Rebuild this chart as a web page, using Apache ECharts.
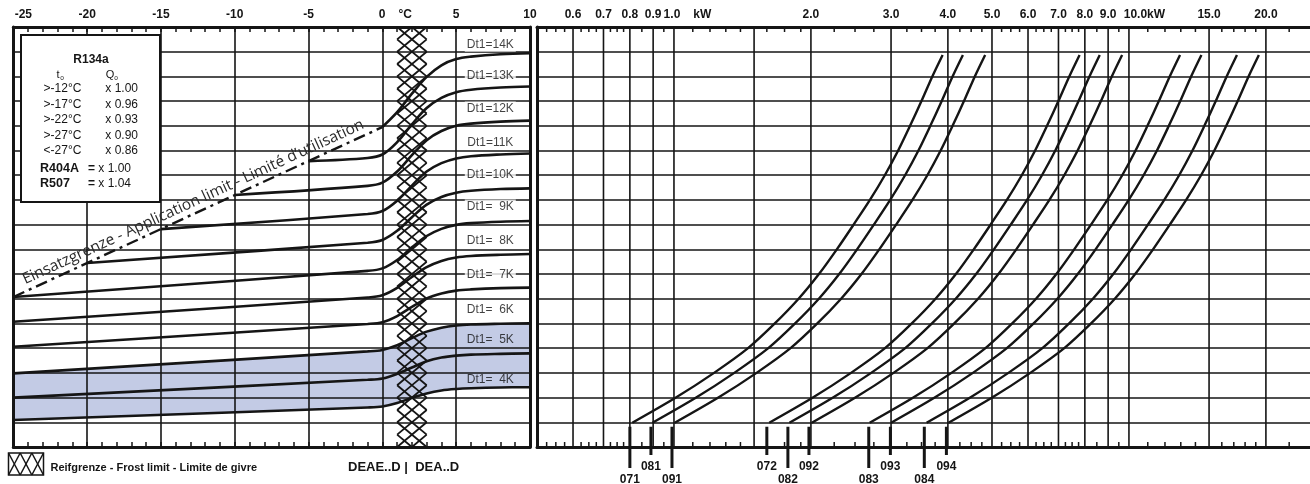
<!DOCTYPE html>
<html><head><meta charset="utf-8">
<script src="https://cdn.jsdelivr.net/npm/echarts@6/dist/echarts.min.js"></script>
<style>html,body{margin:0;padding:0;background:#fff}#c{width:1310px;height:484px}</style>
</head><body><div id="c"></div>
<script>
// ---------- data ----------
const tempMin = -25, tempMax = 10;
const frostBand = [1, 3];
const limitLine = [[-25, 6.07], [0, 12.95]];
const limitText = 'Einsatzgrenze - Application limit - Limité d\u2019utilisation';

const dt4  = [[-25,1.09],[-1,1.60],[0,1.64],[1,1.78],[2,1.99],[3,2.17],[4,2.29],[5,2.35],[6,2.38],[8,2.41],[10,2.42]];
const dt5  = [[-25,2.00],[-1,2.72],[0,2.77],[1,2.96],[2,3.22],[3,3.47],[4,3.62],[5,3.70],[6,3.74],[8,3.77],[10,3.79]];
const dt6  = [[-25,2.98],[-1,3.87],[0,3.93],[1,4.12],[2,4.41],[3,4.67],[4,4.83],[5,4.92],[6,4.96],[8,4.99],[10,5.01]];
const dt7  = [[-25,4.06],[-1,4.98],[0,5.05],[1,5.30],[2,5.67],[3,6.01],[4,6.21],[5,6.33],[6,6.38],[8,6.43],[10,6.45]];
const dt8  = [[-25,5.07],[-1,6.05],[0,6.14],[1,6.44],[2,6.88],[3,7.28],[4,7.53],[5,7.67],[6,7.73],[8,7.78],[10,7.81]];
const dt9  = [[-25,6.07],[-1,7.13],[0,7.23],[1,7.57],[2,8.08],[3,8.54],[4,8.83],[5,8.99],[6,9.06],[8,9.12],[10,9.15]];
const dt10 = [[-20,7.45],[-1,8.27],[0,8.38],[1,8.75],[2,9.30],[3,9.81],[4,10.12],[5,10.29],[6,10.37],[8,10.44],[10,10.47]];
const dt11 = [[-15,8.82],[-1,9.43],[0,9.55],[1,9.97],[2,10.58],[3,11.15],[4,11.49],[5,11.68],[6,11.77],[8,11.84],[10,11.88]];
const dt12 = [[-10,10.20],[-1,10.57],[0,10.70],[1,11.15],[2,11.81],[3,12.42],[4,12.79],[5,13.00],[6,13.09],[8,13.17],[10,13.21]];
const dt13 = [[-5,11.57],[-1,11.70],[0,11.84],[1,12.34],[2,13.06],[3,13.72],[4,14.13],[5,14.36],[6,14.46],[8,14.55],[10,14.59]];
const dt14 = [[0,12.95],[1,13.55],[2,14.30],[3,14.98],[4,15.45],[5,15.70],[6,15.80],[8,15.90],[10,15.94]];
const dtCurves = [dt4, dt5, dt6, dt7, dt8, dt9, dt10, dt11, dt12, dt13, dt14];
const dtNames = ['Dt1=  4K','Dt1=  5K','Dt1=  6K','Dt1=  7K','Dt1=  8K','Dt1=  9K','Dt1=10K','Dt1=11K','Dt1=12K','Dt1=13K','Dt1=14K'];
const dtLabelX = 7.31;
const dtLabelY = [2.74, 4.33, 5.57, 6.96, 8.35, 9.73, 11.01, 12.31, 13.70, 15.02, 16.28];
const dtLabelOnBand = [true, true, false, false, false, false, false, false, false, false, false];

const kwMin = 0.5, kwMax = 25;
const kwLabelValues = [0.6,0.7,0.8,0.9,1,2,3,4,5,6,7,8,9,10,15,20];
const kwLabelTexts = ['0.6','0.7','0.8','0.9','1.0','2.0','3.0','4.0','5.0','6.0','7.0','8.0','9.0','10.0','15.0','20.0'];
const kwGridValues = [0.6,0.7,0.8,0.9,1,1.5,2,3,4,5,6,7,8,9,10,15,20];
const kwMinorTicks = [0.525,0.55,0.575,0.625,0.65,0.675,0.725,0.75,0.775,0.85,0.95,1.1,1.2,1.3,1.4,1.6,1.75,1.9,2.25,2.5,2.75,3.25,3.5,3.75,4.25,4.5,4.75,5.25,5.5,5.75,6.25,6.5,6.75,7.25,7.5,7.75,8.5,9.5,11,12,13,14,16,17,18,19,22.5];

const kwLevels = [0.98,2,3,4,5,6,7,8,9,10,11,12,13,14,15,15.87];
const c071 = [0.81,1.01,1.225,1.455,1.666,1.879,2.083,2.28,2.482,2.696,2.907,3.11,3.303,3.499,3.697,3.895];
const c081 = [0.897,1.119,1.357,1.612,1.846,2.082,2.308,2.526,2.75,2.987,3.221,3.446,3.66,3.877,4.096,4.316];
const c091 = [1.004,1.252,1.519,1.804,2.066,2.33,2.583,2.827,3.078,3.343,3.605,3.856,4.096,4.339,4.584,4.83];
const c072 = [1.62,2.02,2.45,2.91,3.332,3.758,4.166,4.56,4.964,5.392,5.814,6.22,6.606,6.998,7.394,7.79];
const c082 = [1.794,2.237,2.713,3.223,3.69,4.162,4.614,5.05,5.498,5.972,6.439,6.889,7.316,7.75,8.189,8.627];
const c092 = [2.009,2.505,3.038,3.608,4.132,4.66,5.166,5.654,6.155,6.686,7.209,7.713,8.191,8.678,9.169,9.66];
const c083 = [2.693,3.358,4.073,4.838,5.539,6.248,6.926,7.581,8.253,8.964,9.666,10.341,10.982,11.634,12.293,12.951];
const c093 = [3.001,3.742,4.539,5.391,6.173,6.962,7.718,8.447,9.196,9.989,10.77,11.523,12.238,12.964,13.697,14.431];
const c084 = [3.592,4.479,5.433,6.453,7.389,8.333,9.238,10.112,11.008,11.957,12.893,13.793,14.649,15.518,16.396,17.274];
const c094 = [4.014,5.005,6.07,7.21,8.255,9.311,10.321,11.297,12.298,13.359,14.404,15.41,16.366,17.338,18.319,19.3];
const kwCurves = [c071, c081, c091, c072, c082, c092, c083, c093, c084, c094];

const markerNames = ['071','081','091','072','082','092','083','093','084','094'];
const markerKw = [0.80,0.89,0.99,1.60,1.78,1.98,2.68,2.99,3.55,3.97];
const markerLong = [true,false,true,false,true,false,true,false,true,false];
const markerTop = 0.82;

const boxRowsT = ['>-12°C','>-17°C','>-22°C','>-27°C','<-27°C'];
const boxRowsQ = ['x 1.00','x 0.96','x 0.93','x 0.90','x 0.86'];

// ---------- style ----------
const BLACK = '#151515';
const BLUE = '#c3cbe5';
const F = 'Liberation Sans, Arial, sans-serif';
const yMax = 17;

function hatchSegments(x0, y0, W, H, cols, h, lw, z) {
  const w = W / cols, out = [];
  const nMax = Math.ceil(H / h) + cols + 1;
  const mk = (x1, y1, x2, y2) => {
    const el = {type:'line', shape:{x1, y1, x2, y2}, style:{stroke:BLACK, lineWidth:lw}};
    if (z != null) el.z = z;
    return el;
  };
  for (let n = 0; n <= nMax; n++) {
    const lo = Math.max(0, h * (n - cols)), hi = Math.min(H, h * n);
    if (hi > lo + 0.01) out.push(mk(x0 + w*n - w/h*lo, y0 + lo, x0 + w*n - w/h*hi, y0 + hi));
  }
  for (let m = -nMax; m <= cols; m++) {
    const lo = Math.max(0, -h * m), hi = Math.min(H, h * (cols - m));
    if (hi > lo + 0.01) out.push(mk(x0 + w*m + w/h*lo, y0 + lo, x0 + w*m + w/h*hi, y0 + hi));
  }
  return out;
}

const axisFont = {fontFamily:F, fontSize:12, fontWeight:'bold', color:BLACK};
const lineW = 1.6;

const series = [];
// blue band between 4K and 6K: blue fill under 6K, white fill under 4K (grid lines are drawn above both)
series.push({type:'line', xAxisIndex:0, yAxisIndex:0, data:dt6, smooth:0.35, symbol:'none',
  lineStyle:{width:0, opacity:0}, areaStyle:{color:BLUE, opacity:1, origin:'start'}, z:1, silent:true});
series.push({type:'line', xAxisIndex:0, yAxisIndex:0, data:dt4, smooth:0.35, symbol:'none',
  lineStyle:{width:0, opacity:0}, areaStyle:{color:'#ffffff', opacity:1, origin:'start'}, z:1, silent:true});
// Dt curves
dtCurves.forEach((d, i) => series.push({name:dtNames[i], type:'line', xAxisIndex:0, yAxisIndex:0, data:d, smooth:0.35,
  symbol:'none', lineStyle:{color:BLACK, width:2.6}, z:4, silent:true}));
// application limit
series.push({type:'line', xAxisIndex:0, yAxisIndex:0, data:limitLine, symbol:'none', lineStyle:{opacity:0, width:0}, z:4, silent:true,
  markLine:{silent:true, symbol:'none', animation:false,
    lineStyle:{color:BLACK, width:2.4, type:[12,5,3,5]},
    label:{show:true, position:'insideMiddleTop', formatter:limitText, color:'#2a2a2a', fontFamily:'Open Sans', fontSize:15.5, distance:3},
    data:[[{coord:limitLine[0]},{coord:limitLine[1]}]]}});
// frost band hatch
series.push({type:'custom', xAxisIndex:0, yAxisIndex:0, data:[frostBand], z:5, silent:true,
  renderItem:(params, api) => {
    const a = api.coord([api.value(0), yMax]), b = api.coord([api.value(1), 0]);
    const h = api.size([0, 0.5])[1];
    return {type:'group', children: hatchSegments(a[0], a[1], b[0]-a[0], b[1]-a[1], 2, h, 1.8)};
  }});
// Dt labels
series.push({type:'scatter', xAxisIndex:0, yAxisIndex:0,
  data:dtLabelY.map((y, i) => ({value:[dtLabelX, y], label:{backgroundColor: dtLabelOnBand[i] ? 'transparent' : '#fff'}})),
  symbolSize:1, itemStyle:{color:'rgba(0,0,0,0)'}, z:6, silent:true,
  label:{show:true, position:'inside', formatter:p => dtNames[p.dataIndex], backgroundColor:'#fff', padding:[1,2],
    color:'#111', fontFamily:F, fontSize:12}});
// kW grid lines
series.push({type:'custom', xAxisIndex:2, yAxisIndex:2, data:kwGridValues.map(v => [v, 0]), z:3, silent:true,
  renderItem:(params, api) => {
    const a = api.coord([api.value(0), yMax]), b = api.coord([api.value(0), 0]);
    return {type:'line', shape:{x1:a[0], y1:a[1], x2:b[0], y2:b[1]}, style:{stroke:BLACK, lineWidth:lineW}};
  }});
// kW minor ticks
series.push({type:'custom', xAxisIndex:2, yAxisIndex:2, data:kwMinorTicks.map(v => [v, 0]), z:3, silent:true,
  renderItem:(params, api) => {
    const a = api.coord([api.value(0), yMax]), b = api.coord([api.value(0), 0]);
    return {type:'group', children:[
      {type:'line', shape:{x1:a[0], y1:a[1], x2:a[0], y2:a[1]+5}, style:{stroke:BLACK, lineWidth:1.5}},
      {type:'line', shape:{x1:b[0], y1:b[1]-5, x2:b[0], y2:b[1]}, style:{stroke:BLACK, lineWidth:1.5}}]};
  }});
// kW curves
kwCurves.forEach((c, i) => series.push({name:markerNames[i], type:'line', xAxisIndex:2, yAxisIndex:2,
  data:c.map((k, j) => [k, kwLevels[j]]), smooth:0.3, symbol:'none', lineStyle:{color:BLACK, width:2.4}, z:4, silent:true}));
// markers
series.push({type:'custom', xAxisIndex:2, yAxisIndex:2, data:markerKw.map((k, i) => [k, markerTop]), z:5, clip:false, silent:true,
  renderItem:(params, api) => {
    const i = params.dataIndex;
    const a = api.coord([api.value(0), api.value(1)]), b = api.coord([api.value(0), 0]);
    const long = markerLong[i];
    return {type:'group', children:[
      {type:'line', shape:{x1:a[0], y1:a[1], x2:a[0], y2:b[1] + (long ? 21 : 8)}, style:{stroke:BLACK, lineWidth:3}},
      {type:'text', style:{text:markerNames[i], x:a[0], y:b[1] + (long ? 32.5 : 20), align:'center', verticalAlign:'middle',
        font:'bold 12px ' + F, fill:BLACK}}]};
  }});

// graphics (box + legend)
const g = [];
g.push({type:'rect', shape:{x:21, y:35, width:139, height:167}, style:{fill:'#fff', stroke:BLACK, lineWidth:2}, z:100});
const txt = (text, x, y, opt) => ({type:'text', z:101, style:Object.assign({text, x, y, align:'center', verticalAlign:'middle',
  font:'12px ' + F, fill:BLACK}, opt || {})});
g.push(txt('R134a', 91, 60, {font:'bold 12px ' + F}));
g.push(txt('t', 58, 75, {font:'11px ' + F})); g.push(txt('o', 62, 78.5, {font:'6.5px ' + F}));
g.push(txt('Q', 110, 75, {font:'11px ' + F})); g.push(txt('o', 116, 78.5, {font:'6.5px ' + F}));
boxRowsT.forEach((t, i) => { g.push(txt(t, 62.5, 89 + i*15.5)); g.push(txt(boxRowsQ[i], 121.7, 89 + i*15.5)); });
g.push(txt('R404A', 40, 168.3, {align:'left', font:'bold 12.5px ' + F}));
g.push(txt('{b|=} x 1.00', 88, 168.3, {align:'left', rich:{b:{font:'bold 12px ' + F}}}));
g.push(txt('R507', 40, 183.3, {align:'left', font:'bold 12.5px ' + F}));
g.push(txt('{b|=} x 1.04', 88, 183.3, {align:'left', rich:{b:{font:'bold 12px ' + F}}}));
// legend icon
g.push({type:'rect', shape:{x:8.5, y:453, width:35, height:22}, style:{fill:'#fff', stroke:BLACK, lineWidth:1.5}, z:100});
hatchSegments(8.5, 453, 35, 22, 3, 22, 1.5, 102).forEach(el => g.push(el));
g.push(txt('Reifgrenze - Frost limit - Limite de givre', 50.5, 468.3, {align:'left', font:'bold 11px ' + F}));
g.push(txt('DEAE..D |  DEA..D', 348, 467, {align:'left', font:'bold 13px ' + F}));

const tempAxisBase = {type:'value', gridIndex:0, min:tempMin, max:tempMax, interval:5, z:3,
  axisLine:{show:true, onZero:false, lineStyle:{color:BLACK, width:3}},
  axisTick:{show:true, inside:true, length:5, lineStyle:{color:BLACK, width:1.5}},
  minorTick:{show:true, splitNumber:5, length:5, lineStyle:{color:BLACK, width:1.5}}};
const kwAxisBase = {type:'log', logBase:10, gridIndex:1, min:kwMin, max:kwMax, z:3,
  axisLine:{show:true, onZero:false, lineStyle:{color:BLACK, width:3}},
  axisTick:{show:false}, splitLine:{show:false}, minorTick:{show:false}};

const option = {
  animation:false,
  backgroundColor:'#fff',
  grid:[{left:10, top:27, width:520, height:420, show:false},
        {left:537, top:27, width:780, height:420, show:false}],
  xAxis:[
    Object.assign({}, tempAxisBase, {position:'top',
      axisLabel:{show:true, margin:6, fontFamily:F, fontSize:12, fontWeight:'bold', color:BLACK,
        formatter:v => v === -25 ? '{s1| }{t|-25}' : (v === 0 ? '{s2| }{t|0}{u|°C}' : '{t|' + v + '}'),
        rich:{t:axisFont, s1:{width:20}, s2:{width:26}, u:Object.assign({padding:[0,0,0,13]}, axisFont)}},
      splitLine:{show:true, lineStyle:{color:BLACK, width:lineW}}}),
    Object.assign({}, tempAxisBase, {position:'bottom', axisLabel:{show:false}, splitLine:{show:false}}),
    Object.assign({}, kwAxisBase, {position:'top',
      axisLabel:{show:true, margin:6, customValues:kwLabelValues, fontFamily:F, fontSize:12, fontWeight:'bold', color:BLACK,
        formatter:v => {
          const i = kwLabelValues.findIndex(k => Math.abs(k - v) < 1e-6 * Math.max(1, k));
          if (i < 0) return '';
          const t = kwLabelTexts[i];
          if (t === '1.0') return '{s3| }{t|1.0}{k|kW}';
          if (t === '10.0') return '{s4| }{t|10.0kW}';
          return '{t|' + t + '}';
        },
        rich:{t:axisFont, s3:{width:27}, s4:{width:31}, k:Object.assign({padding:[0,0,0,13]}, axisFont)}}}),
    Object.assign({}, kwAxisBase, {position:'bottom', axisLabel:{show:false}})
  ],
  yAxis:[
    {type:'value', gridIndex:0, min:0, max:yMax, interval:1, z:3, position:'left',
      axisLine:{show:true, onZero:false, lineStyle:{color:BLACK, width:3}}, axisTick:{show:false}, axisLabel:{show:false},
      splitLine:{show:true, lineStyle:{color:BLACK, width:lineW}}},
    {type:'value', gridIndex:0, min:0, max:yMax, interval:1, z:3, position:'right',
      axisLine:{show:true, onZero:false, lineStyle:{color:BLACK, width:3}}, axisTick:{show:false}, axisLabel:{show:false},
      splitLine:{show:false}},
    {type:'value', gridIndex:1, min:0, max:yMax, interval:1, z:3, position:'left',
      axisLine:{show:true, onZero:false, lineStyle:{color:BLACK, width:3}}, axisTick:{show:false}, axisLabel:{show:false},
      splitLine:{show:true, lineStyle:{color:BLACK, width:lineW}}}
  ],
  graphic:g,
  series
};
const chart = echarts.init(document.getElementById('c'), null, {renderer:'canvas'});
chart.setOption(option);
</script></body></html>
